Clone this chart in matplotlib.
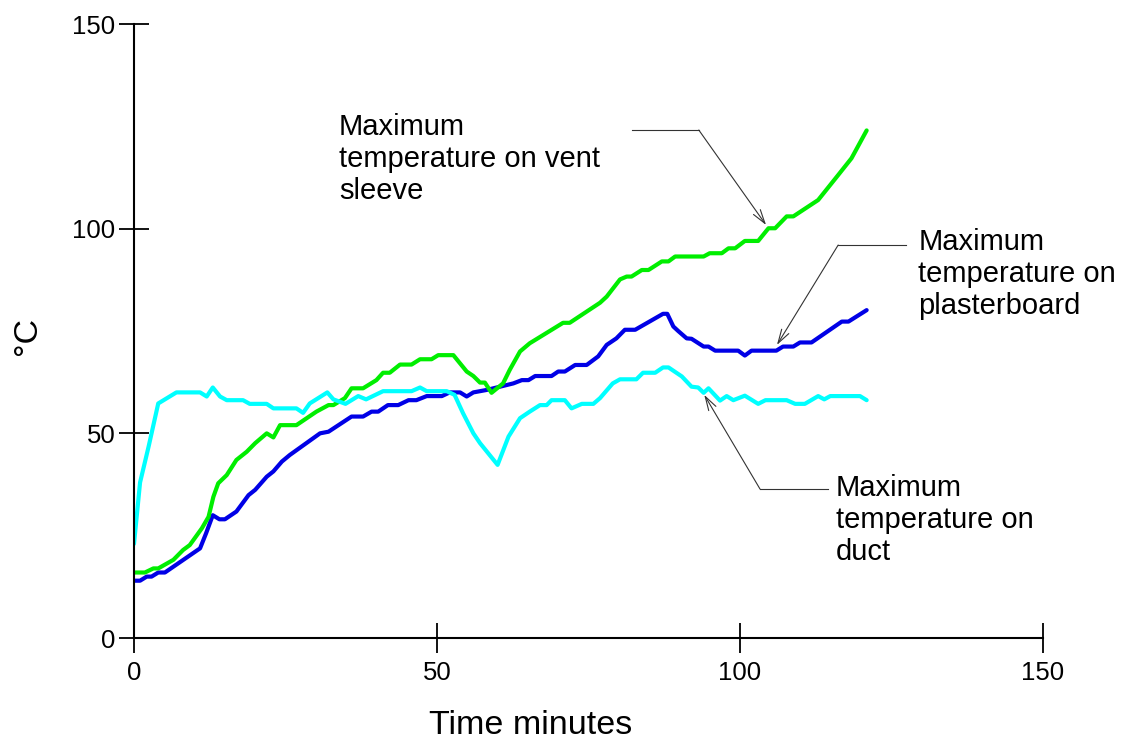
import matplotlib
matplotlib.use("Agg")
import matplotlib.pyplot as plt

plt.rcParams['font.family'] = ['Liberation Sans', 'DejaVu Sans']

# ---- data ----
duct_t = [0, 1, 2.4, 4, 7, 10.9, 12, 13, 14.2, 15.3, 18, 19.1, 21.9, 23, 26.8, 27.9, 29, 31.9, 32.9, 34.9,
          37, 38.3, 41.1, 45.8, 47.2, 48.3, 51.6, 52.9, 54.3, 56, 57.1, 60, 61.8, 63.7, 65.3, 67, 68.1, 68.9,
          71.1, 72.2, 73.9, 75.8, 76.9, 79, 80.2, 82.9, 84, 86, 87.3, 88.2, 90.4, 92, 93.1, 94, 94.8, 96.7,
          97.8, 98.9, 100.8, 103, 104.2, 107.7, 109.1, 110.7, 112.9, 113.9, 114.9, 119.8, 120.9]
duct_v = [23, 38, 46.7, 57.3, 60, 60, 59, 61.2, 59, 58.1, 58.1, 57.2, 57.2, 56.1, 56.1, 55, 57.3, 60, 58.3, 57.2,
          59.1, 58.3, 60.3, 60.3, 61.2, 60.3, 60.3, 59.4, 54.9, 50, 47.6, 42.3, 49.2, 53.7, 55.3, 56.9, 56.9, 58.1,
          58.1, 56.1, 57.2, 57.2, 58.6, 62.2, 63.2, 63.2, 64.8, 64.8, 66.1, 66.1, 63.9, 61.4, 61.2, 59.9, 61, 58,
          59.1, 58.1, 59.2, 57.2, 58.1, 58.1, 57.2, 57.2, 59.1, 58.3, 59.1, 59.1, 58.1]

vent_t = [0, 1.8, 3.2, 4, 6.5, 8.1, 9.2, 11.2, 12.3, 13.1, 13.9, 15.3, 16.9, 18.6, 20, 21.9, 23, 24.1, 26.8, 30.1,
          32.1, 32.9, 34.8, 35.9, 37.8, 40, 41.1, 42.2, 43.9, 45.8, 47.2, 49.1, 50.2, 52.7, 54.9, 56, 57.1, 57.9,
          59, 60.9, 62, 63.7, 65.3, 70.8, 71.9, 76.9, 78, 80.2, 81.3, 82.1, 83.8, 84.9, 87.1, 88.2, 89.3, 94, 95,
          97, 98.1, 99.2, 100.8, 103, 104.7, 105.8, 107.7, 108.8, 112.9, 116.2, 118.4, 120.9]
vent_v = [16, 16, 17, 17, 19.1, 21.5, 22.7, 26.8, 29.6, 34.5, 37.8, 39.8, 43.5, 45.5, 47.6, 50, 49, 52, 52, 55.3,
          56.9, 56.9, 58.6, 61, 61, 63, 64.8, 64.8, 66.8, 66.8, 68.1, 68.1, 69.1, 69.1, 65.1, 64, 62.4, 62.4,
          59.9, 62.2, 65.5, 70, 72, 77, 77, 81.9, 83.4, 87.6, 88.3, 88.3, 89.9, 89.9, 92, 92, 93.2, 93.2, 94,
          94, 95.2, 95.2, 97, 97, 100.1, 100.1, 103, 103, 107, 113.1, 117.2, 124]

plaster_t = [0, 1, 2.1, 2.9, 4, 5.1, 10.9, 11.9, 13, 14.1, 15, 16.9, 18.9, 20, 21.9, 23, 24.4, 25.7, 30.7, 32.1,
             35.9, 37.8, 39.2, 40.3, 41.9, 43.6, 45.3, 46.6, 48.3, 50.8, 52.1, 53.8, 54.9, 56, 58.2, 62.6, 64,
             65.1, 66.2, 68.9, 70, 71.1, 72.8, 74.7, 76.6, 78, 79.6, 81, 82.7, 87.3, 88, 89, 89.8, 91.2, 92, 94,
             94.8, 95.9, 99.7, 100.8, 101.9, 106, 107.1, 108.8, 109.9, 111.8, 116.8, 117.9, 120.9]
plaster_v = [14, 14, 15, 15, 16, 16, 21.9, 25.6, 30, 29, 29, 30.9, 34.9, 36.2, 39.4, 40.7, 43.1, 44.7, 50, 50.4,
             54.1, 54.1, 55.3, 55.3, 56.9, 56.9, 58.1, 58.1, 59.1, 59.1, 60, 60, 59, 60, 60.6, 62.2, 63,
             63, 64, 64, 65.1, 65.1, 66.7, 66.7, 68.8, 71.6, 73.2, 75.3, 75.3, 79.2, 79.2, 76.1, 75, 73.2, 73.1, 71.2,
             71.2, 70.2, 70.2, 69, 70.2, 70.2, 71.2, 71.2, 72.2, 72.2, 77.3, 77.3, 80.1]

x_ticks = [0, 50, 100, 150]
y_ticks = [0, 50, 100, 150]
labels = ["Maximum\ntemperature on vent\nsleeve",
          "Maximum\ntemperature on\nplasterboard",
          "Maximum\ntemperature on\nduct"]

# ---- figure ----
fig = plt.figure(figsize=(11.24, 7.44), dpi=100)
ax = fig.add_axes([134 / 1124, (744 - 638) / 744, (1043 - 134) / 1124, (638 - 24) / 744])

lw = 3.0
ax.plot(plaster_t, plaster_v, color='#0000e6', lw=lw, solid_joinstyle='round', solid_capstyle='round')
ax.plot(vent_t, vent_v, color='#00ee00', lw=lw, solid_joinstyle='round', solid_capstyle='round')
ax.plot(duct_t, duct_v, color='#00ffff', lw=lw, solid_joinstyle='round', solid_capstyle='round')

ax.set_xlim(0, 150)
ax.set_ylim(0, 150)
ax.set_xticks(x_ticks)
ax.set_yticks(y_ticks)
for s in ['top', 'right']:
    ax.spines[s].set_visible(False)
for s in ['left', 'bottom']:
    ax.spines[s].set_linewidth(1.5)
ax.tick_params(direction='inout', length=21, width=1.3, labelsize=18.5, pad=3)
ax.tick_params(axis='x', pad=6)

fig.text(531 / 1124, 1 - 725 / 744, "Time minutes", fontsize=24.5, ha='center', va='center')
fig.text(28 / 1124, 1 - 336 / 744, "°C", fontsize=24.5, ha='center', va='center', rotation=90)

# annotations
ann_col = '#333333'
arrow = dict(arrowstyle='->,head_length=1.0,head_width=0.3', color=ann_col, lw=0.8,
             shrinkA=0, shrinkB=0)
fs_ann = 21
ls_ann = 1.17

# vent sleeve
ax.plot([82.2, 93.2], [124.1, 124.1], color=ann_col, lw=0.8)
ax.annotate("", xy=(104.3, 100.9), xytext=(93.2, 124.1), arrowprops=arrow)
ax.text(33.8, 117.0, labels[0], fontsize=fs_ann, ha='left', va='center', linespacing=ls_ann)
# plasterboard
ax.plot([116.2, 127.4], [96.0, 96.0], color=ann_col, lw=0.8, clip_on=False)
ax.annotate("", xy=(106.1, 71.6), xytext=(116.2, 96.0), arrowprops=arrow)
ax.text(129.4, 88.9, labels[1], fontsize=fs_ann, ha='left', va='center', linespacing=ls_ann)
# duct
ax.plot([103.3, 114.5], [36.4, 36.4], color=ann_col, lw=0.8)
ax.annotate("", xy=(94.1, 59.4), xytext=(103.3, 36.4), arrowprops=arrow)
ax.text(115.8, 28.8, labels[2], fontsize=fs_ann, ha='left', va='center', linespacing=ls_ann)

fig.savefig("out.png", dpi=100)
